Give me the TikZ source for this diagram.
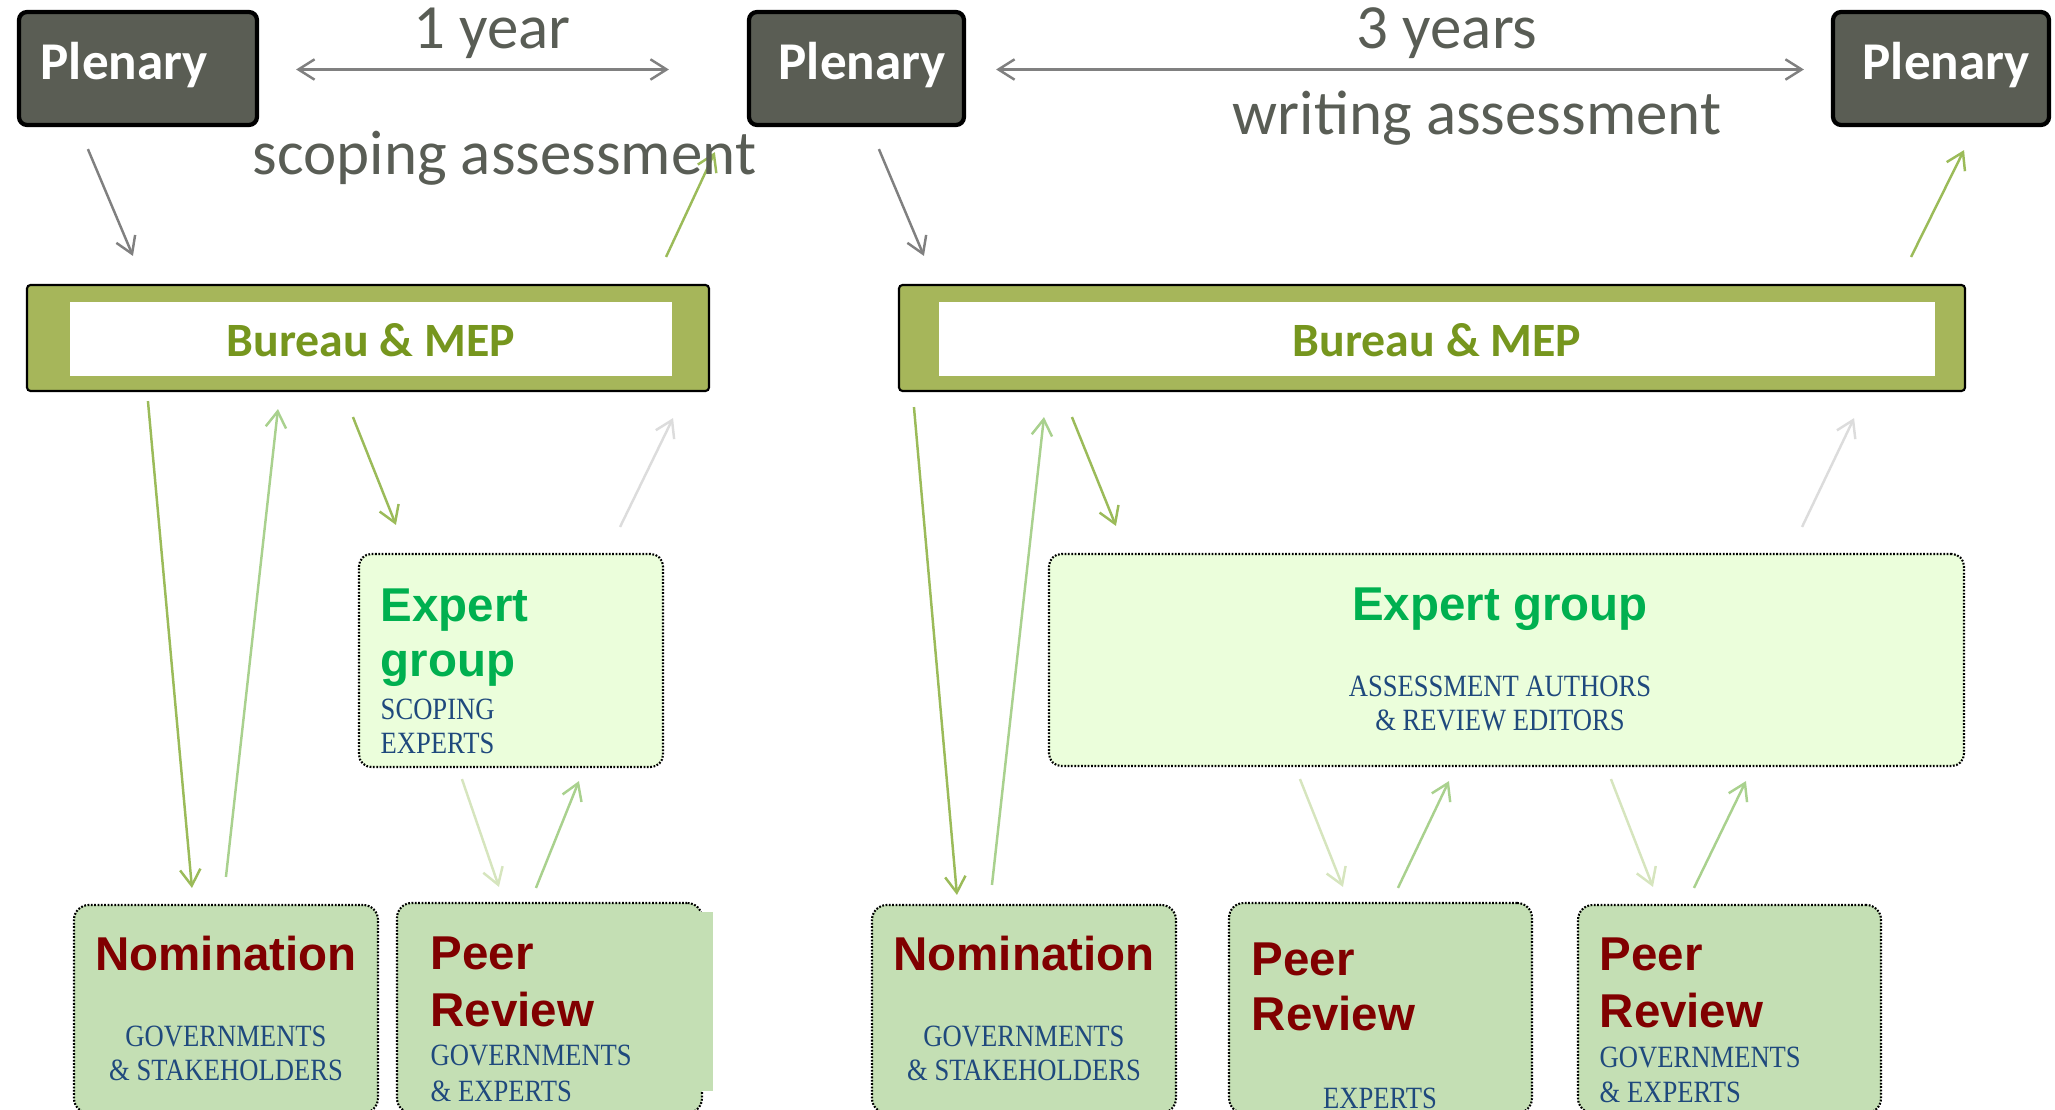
\documentclass[tikz,border=0pt]{standalone}
\usepackage{fontspec}
\setmainfont{Carlito}
\newfontfamily\arialfont{Liberation Sans}
\newfontfamily\capsfont[FakeStretch=0.86]{Liberation Serif}
\usetikzlibrary{arrows.meta,calc,fit}

\definecolor{plenfill}{HTML}{5A5D54}
\definecolor{spantext}{HTML}{595D55}
\definecolor{bureaufill}{HTML}{A6B65A}
\definecolor{bureautext}{HTML}{76961E}
\definecolor{expfill}{HTML}{EBFEDB}
\definecolor{exptext}{HTML}{00B050}
\definecolor{lowfill}{HTML}{C4DFB4}
\definecolor{lowtext}{HTML}{800000}
\definecolor{captext}{HTML}{1F497D}
\definecolor{olivearr}{HTML}{9BBB59}
\definecolor{greenarr}{HTML}{A9D18E}
\definecolor{palearr}{HTML}{D6E5BE}
\definecolor{ghostarr}{HTML}{DCDCDC}
\definecolor{grayarr}{HTML}{808080}

\tikzset{
  plenbox/.style={draw=black, line width=1.2pt, fill=plenfill, rounded corners=2.3pt, inner sep=0pt},
  bureaubox/.style={draw=black, line width=0.6pt, fill=bureaufill, rounded corners=1pt, inner sep=0pt},
  bureauinner/.style={fill=white, inner sep=0pt},
  expbox/.style={draw=black, line width=0.6pt, dash pattern=on 0.5pt off 0.45pt, fill=expfill, rounded corners=3.5pt, inner sep=0pt},
  lowbox/.style={draw=black, line width=0.6pt, dash pattern=on 0.5pt off 0.45pt, fill=lowfill, rounded corners=4.2pt, inner sep=0pt},
  plentxt/.style={inner sep=0pt, text=white, font=\fontsize{15.1pt}{18pt}\selectfont\bfseries},
  spantxt/.style={inner sep=0pt, text=spantext, font=\fontsize{17.9pt}{21pt}\selectfont},
  bureautxt/.style={inner sep=0pt, text=bureautext, font=\fontsize{13.6pt}{16pt}\selectfont\bfseries},
  exptxt/.style={inner sep=0pt, text=exptext, font=\arialfont\fontsize{13.5pt}{16pt}\selectfont\bfseries},
  lowtxt/.style={inner sep=0pt, text=lowtext, font=\arialfont\fontsize{13.5pt}{16pt}\selectfont\bfseries},
  captxt/.style={inner sep=0pt, text=captext, font=\capsfont\fontsize{8.8pt}{10pt}\selectfont},
  arr/.style={line width=0.7pt, -{Straight Barb[length=4.6pt,width=5.8pt]}},
  grayarrow/.style={arr, draw=grayarr},
  olivearrow/.style={arr, draw=olivearr},
  greenarrow/.style={arr, draw=greenarr},
  palearrow/.style={arr, draw=palearr},
  ghostarrow/.style={arr, draw=ghostarr},
  spanarrow/.style={line width=0.7pt, draw=grayarr, {Straight Barb[length=4.6pt,width=5.8pt]}-{Straight Barb[length=4.6pt,width=5.8pt]}},
}

\begin{document}
\begin{tikzpicture}[x=0.01cm, y=-0.01cm]
    \useasboundingbox (0,0) rectangle (2055,1110);
    \clip (0,0) rectangle (2055,1110);

    % plenaries
    \node[plenbox, fit={(19,12) (257,125)}] (plenA) {};
    \node[plenbox, fit={(749,12) (964,125)}] (plenB) {};
    \node[plenbox, fit={(1833,12) (2049,125)}] (plenC) {};

    % bureau
    \node[bureaubox, fit={(27,285) (709,391)}] (bureauA) {};
    \node[bureauinner, fit={(70,302) (672,376)}] (bureauAin) {};
    \node[bureaubox, fit={(899,285) (1965,391)}] (bureauB) {};
    \node[bureauinner, fit={(939,302) (1935,376)}] (bureauBin) {};

    % expert groups
    \node[expbox, fit={(359,554) (663,767)}] (expA) {};
    \node[expbox, fit={(1049,554) (1964,766)}] (expB) {};

    % nomination and review
    \node[lowbox, fit={(74,905) (378,1113)}] (nomA) {};
    \node[lowbox, fit={(397,903) (702,1113)}] (peerA) {};
    \fill[lowfill] (600,912) rectangle (713,1091);
    \node[lowbox, fit={(872,905) (1176,1113)}] (nomB) {};
    \node[lowbox, fit={(1229,903) (1532,1113)}] (peerB) {};
    \node[lowbox, fit={(1578,905) (1881,1113)}] (peerC) {};

    % time spans
    \draw[spanarrow]  ($(plenA.east) + (37,1)$) -- ($(plenB.west) + (-78,1)$);
    \draw[spanarrow]  ($(plenB.east) + (30,1)$) -- ($(plenC.west) + (-27,1)$);

    % plenary <-> bureau
    \draw[grayarrow]  ($(plenA.south west) + (71,22)$) -- ($(bureauA.north west) + (107,-28)$);
    \draw[olivearrow] ($(bureauA.north east) + (-44,-27)$) -- ($(plenB.south west) + (-32,25)$);
    \draw[grayarrow]  ($(plenB.south west) + (132,22)$) -- ($(bureauB.north west) + (26,-28)$);
    \draw[olivearrow] ($(bureauB.north east) + (-55,-27)$) -- ($(plenC.south) + (23,23)$);

    % scoping
    \draw[olivearrow] ($(bureauA.south west) + (122,9)$) -- ($(nomA.north west) + (119,-16)$);
    \draw[greenarrow] ($(nomA.north west) + (153,-27)$) -- ($(bureauA.south west) + (252,17)$);
    \draw[olivearrow] ($(bureauA.south west) + (327,25)$) -- ($(expA.north west) + (38,-28)$);
    \draw[ghostarrow] ($(expA.north east) + (-44,-26)$) -- ($(bureauA.south east) + (-37,26)$);
    \draw[palearrow]  ($(expA.south west) + (104,11)$) -- ($(peerA.north west) + (103,-15)$);
    \draw[greenarrow] ($(peerA.north west) + (140,-14)$) -- ($(expA.south west) + (221,13)$);

    % writing
    \draw[olivearrow] ($(bureauB.south west) + (16,15)$) -- ($(nomB.north west) + (86,-9)$);
    \draw[greenarrow] ($(nomB.north west) + (121,-19)$) -- ($(bureauB.south west) + (146,25)$);
    \draw[olivearrow] ($(bureauB.south west) + (174,25)$) -- ($(expB.north west) + (68,-27)$);
    \draw[ghostarrow] ($(expB.north east) + (-163,-26)$) -- ($(bureauB.south east) + (-112,26)$);
    \draw[palearrow]  ($(expB.south west) + (252,12)$) -- ($(peerB.north west) + (115,-15)$);
    \draw[greenarrow] ($(peerB.north west) + (170,-14)$) -- ($(expB.south west) + (401,14)$);
    \draw[palearrow]  ($(expB.south west) + (563,12)$) -- ($(peerC.north west) + (76,-17)$);
    \draw[greenarrow] ($(peerC.north west) + (117,-16)$) -- ($(expB.south west) + (698,14)$);

    % texts
    \node[plentxt, anchor=base west] (plenAtxt) at (40,80) {Plenary};
    \node[plentxt, anchor=base west] (plenBtxt) at (778,80) {Plenary};
    \node[plentxt, anchor=base west] (plenCtxt) at (1862,80) {Plenary};

    \node[spantxt, anchor=base] (oneyear) at (492,49) {1 year};
    \node[spantxt, anchor=base west] (scoping) at (252,175) {scoping assessment};
    \node[spantxt, anchor=base] (threeyears) at (1447,49) {3 years};
    \node[spantxt, anchor=base west] (writing) at (1232,135) {writing assessment};

    \node[bureautxt, anchor=base] (bureauAtxt) at (371,357) {Bureau \& MEP};
    \node[bureautxt, anchor=base] (bureauBtxt) at (1437,357) {Bureau \& MEP};

    \node[exptxt, anchor=base west] (expAtxt1) at (380,622) {Expert};
    \node[exptxt, anchor=base west] (expAtxt2) at (380,676) {group};
    \node[captxt, anchor=base west] (expAcap1) at (380,719) {SCOPING};
    \node[captxt, anchor=base west] (expAcap2) at (380,753) {EXPERTS};

    \node[exptxt, anchor=base] (expBtxt) at (1500,620) {Expert group};
    \node[captxt, anchor=base] (expBcap1) at (1500,696) {ASSESSMENT AUTHORS};
    \node[captxt, anchor=base] (expBcap2) at (1500,730) {\& REVIEW EDITORS};

    \node[lowtxt, anchor=base] (nomAtxt) at (226,970) {Nomination};
    \node[captxt, anchor=base] (nomAcap1) at (226,1046) {GOVERNMENTS};
    \node[captxt, anchor=base] (nomAcap2) at (226,1080) {\& STAKEHOLDERS};

    \node[lowtxt, anchor=base] (nomBtxt) at (1024,970) {Nomination};
    \node[captxt, anchor=base] (nomBcap1) at (1024,1046) {GOVERNMENTS};
    \node[captxt, anchor=base] (nomBcap2) at (1024,1080) {\& STAKEHOLDERS};

    \node[lowtxt, anchor=base west] (peerAtxt1) at (430,969) {Peer};
    \node[lowtxt, anchor=base west] (peerAtxt2) at (430,1026) {Review};
    \node[captxt, anchor=base west] (peerAcap1) at (430,1065) {GOVERNMENTS};
    \node[captxt, anchor=base west] (peerAcap2) at (430,1101) {\& EXPERTS};

    \node[lowtxt, anchor=base west] (peerBtxt1) at (1251,975) {Peer};
    \node[lowtxt, anchor=base west] (peerBtxt2) at (1251,1030) {Review};
    \node[captxt, anchor=base] (peerBcap) at (1380,1108) {EXPERTS};

    \node[lowtxt, anchor=base west] (peerCtxt1) at (1599,970) {Peer};
    \node[lowtxt, anchor=base west] (peerCtxt2) at (1599,1027) {Review};
    \node[captxt, anchor=base west] (peerCcap1) at (1599,1067) {GOVERNMENTS};
    \node[captxt, anchor=base west] (peerCcap2) at (1599,1102) {\& EXPERTS};

\end{tikzpicture}
\end{document}
